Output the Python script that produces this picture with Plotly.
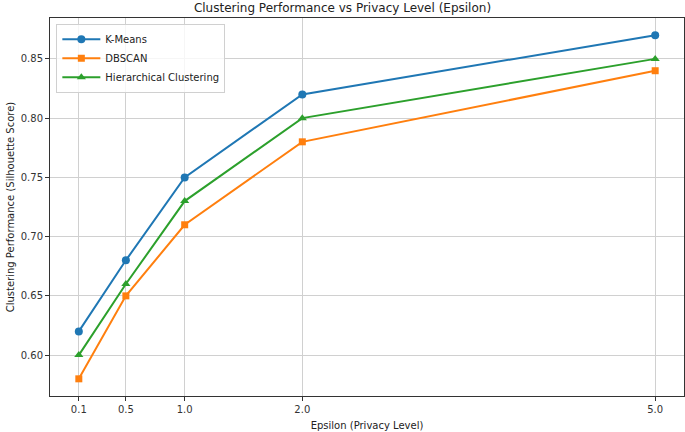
import plotly.graph_objects as go

epsilon = [0.1, 0.5, 1.0, 2.0, 5.0]
kmeans = [0.62, 0.68, 0.75, 0.82, 0.87]
dbscan = [0.58, 0.65, 0.71, 0.78, 0.84]
hierarchical = [0.60, 0.66, 0.73, 0.80, 0.85]
x_ticks = ["0.1", "0.5", "1.0", "2.0", "5.0"]
y_ticks = [0.60, 0.65, 0.70, 0.75, 0.80, 0.85]

series = [
    ("K-Means", kmeans, "#1f77b4", "circle"),
    ("DBSCAN", dbscan, "#ff7f0e", "square"),
    ("Hierarchical Clustering", hierarchical, "#2ca02c", "triangle-up"),
]

fig = go.Figure()
for name, vals, col, sym in series:
    fig.add_trace(go.Scatter(
        x=epsilon, y=vals, name=name, mode="lines+markers",
        line=dict(color=col, width=2),
        marker=dict(symbol=sym, size=8 if sym != "square" else 7, color=col),
    ))

font = "DejaVu Sans, sans-serif"
fig.update_layout(
    width=685, height=432, autosize=False,
    margin=dict(l=50, r=1, t=18, b=36, autoexpand=False),
    paper_bgcolor="white", plot_bgcolor="white",
    font=dict(family=font, size=10, color="#333"),
    title=dict(text="Clustering Performance vs Privacy Level (Epsilon)",
               x=0.5, xanchor="center", y=1 - 8 / 432, yanchor="middle", yref="container",
               font=dict(size=12, color="#222")),
    legend=dict(x=0.01, y=0.985, xanchor="left", yanchor="top",
                bgcolor="rgba(255,255,255,0.8)", bordercolor="#d0d0d0", borderwidth=1,
                font=dict(size=10, color="#222"), tracegroupgap=0, itemwidth=38),
    showlegend=True,
)
fig.update_xaxes(
    range=[-0.145, 5.245], tickvals=epsilon, ticktext=x_ticks, automargin=False,
    showgrid=True, gridcolor="#d0d0d0", gridwidth=1,
    showline=True, linecolor="#333", linewidth=1, mirror=True,
    ticks="outside", ticklen=4, tickcolor="#333", zeroline=False,
    title=dict(text="Epsilon (Privacy Level)", standoff=7, font=dict(size=10, color="#222")),
)
fig.update_yaxes(
    range=[0.5655, 0.8845], tickvals=y_ticks, tickformat=".2f", automargin=False,
    showgrid=True, gridcolor="#d0d0d0", gridwidth=1,
    showline=True, linecolor="#333", linewidth=1, mirror=True,
    ticks="outside", ticklen=4, tickcolor="#333", zeroline=False,
    title=dict(text="Clustering Performance (Silhouette Score)", standoff=4, font=dict(size=10, color="#222")),
)
post = (
    "document.body.style.margin='0px';"
    "document.documentElement.style.overflow='hidden';"
    "var gd=document.getElementById('{plot_id}');"
    "Plotly.relayout(gd,{width:685,height:432});"
)
fig.write_html("out.html", post_script=post,
               config={"responsive": False, "displayModeBar": False})
